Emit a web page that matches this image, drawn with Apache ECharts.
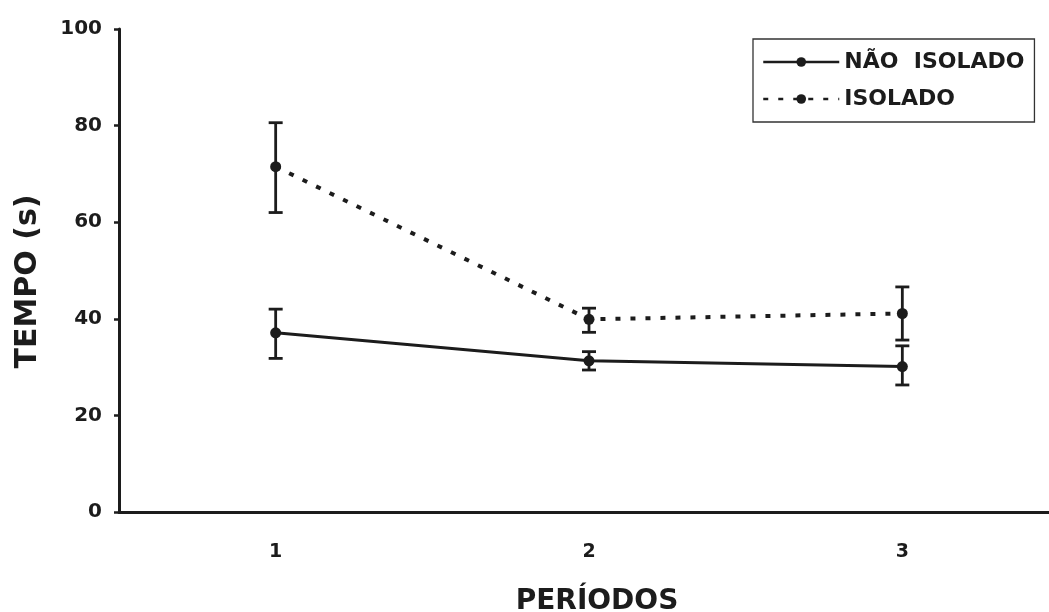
<!DOCTYPE html>
<html><head><meta charset="utf-8">
<script src="https://cdn.jsdelivr.net/npm/echarts@6/dist/echarts.min.js"></script>
<style>html,body{margin:0;padding:0;background:#fff}#c{width:1049px;height:612px}</style>
</head><body><div id="c"></div>
<script>
const categories = ['1', '2', '3'];
const naoIsoladoMean = [37.1, 31.3, 30.1];
const naoIsoladoLow = [31.8, 29.4, 26.3];
const naoIsoladoHigh = [42.0, 33.2, 34.4];
const isoladoMean = [71.5, 39.9, 41.1];
const isoladoLow = [62.0, 37.2, 35.6];
const isoladoHigh = [80.6, 42.2, 46.6];
const yTicks = [0, 20, 40, 60, 80, 100];

const FONT = '"DejaVu Sans", "Liberation Sans", Arial, sans-serif';
const INK = '#1c1c1c';
const chart = echarts.init(document.getElementById('c'));

function errData(low, high) {
  return categories.map((c, i) => [i, low[i], high[i]]);
}
function errRender(params, api) {
  const x = api.value(0);
  const lo = api.coord([x, api.value(1)]);
  const hi = api.coord([x, api.value(2)]);
  const hw = 7;
  const st = { stroke: INK, lineWidth: 2.8 };
  return {
    type: 'group',
    children: [
      { type: 'line', shape: { x1: lo[0], y1: lo[1], x2: hi[0], y2: hi[1] }, style: st },
      { type: 'line', shape: { x1: lo[0] - hw, y1: lo[1], x2: lo[0] + hw, y2: lo[1] }, style: st },
      { type: 'line', shape: { x1: hi[0] - hw, y1: hi[1], x2: hi[0] + hw, y2: hi[1] }, style: st }
    ]
  };
}

chart.setOption({
  backgroundColor: '#fff',
  animation: false,
  grid: { left: 119, right: -10, top: 29, bottom: 100, outerBoundsMode: 'none', containLabel: false },
  legend: {
    left: 753, top: 39,
    orient: 'vertical',
    backgroundColor: '#fff',
    borderColor: '#333', borderWidth: 1.3,
    padding: [12, 10, 12, 9],
    itemGap: 15,
    itemWidth: 76, itemHeight: 12,
    lineStyle: { width: 2.5 },
    textStyle: { fontFamily: FONT, fontWeight: 'bold', fontSize: 22, color: INK },
    data: ['NÃO  ISOLADO', 'ISOLADO']
  },
  xAxis: {
    type: 'category',
    data: categories,
    boundaryGap: true,
    axisLine: { lineStyle: { color: INK, width: 3 } },
    axisTick: { show: false },
    axisLabel: { fontFamily: FONT, fontWeight: 'bold', fontSize: 19, color: INK, margin: 31 },
    name: 'PERÍODOS',
    nameLocation: 'middle',
    nameGap: 76,
    nameTextStyle: { fontFamily: FONT, fontWeight: 'bold', fontSize: 28, color: INK, padding: [0, 0, 0, 16] }
  },
  yAxis: {
    type: 'value',
    min: yTicks[0], max: yTicks[yTicks.length - 1], interval: 20,
    splitLine: { show: false },
    axisLine: { show: true, lineStyle: { color: INK, width: 3 } },
    axisTick: { show: true, length: 5, lineStyle: { color: INK, width: 2.5 } },
    axisLabel: { fontFamily: FONT, fontWeight: 'bold', fontSize: 20, color: INK, margin: 17 },
    name: 'TEMPO (s)',
    nameLocation: 'middle',
    nameRotate: 90,
    nameGap: 76,
    nameTextStyle: { fontFamily: FONT, fontWeight: 'bold', fontSize: 30, color: INK, padding: [0, 22, 0, 0] }
  },
  series: [
    {
      name: 'NÃO  ISOLADO', type: 'line', data: naoIsoladoMean,
      symbol: 'circle', symbolSize: 11,
      lineStyle: { color: INK, width: 3 },
      itemStyle: { color: INK }, z: 3
    },
    {
      name: 'ISOLADO', type: 'line', data: isoladoMean,
      symbol: 'circle', symbolSize: 11,
      lineStyle: { color: INK, width: 4, type: [5, 10] },
      itemStyle: { color: INK }, z: 3
    },
    { type: 'custom', renderItem: errRender, data: errData(naoIsoladoLow, naoIsoladoHigh), z: 2, silent: true },
    { type: 'custom', renderItem: errRender, data: errData(isoladoLow, isoladoHigh), z: 2, silent: true }
  ]
});
</script></body></html>
